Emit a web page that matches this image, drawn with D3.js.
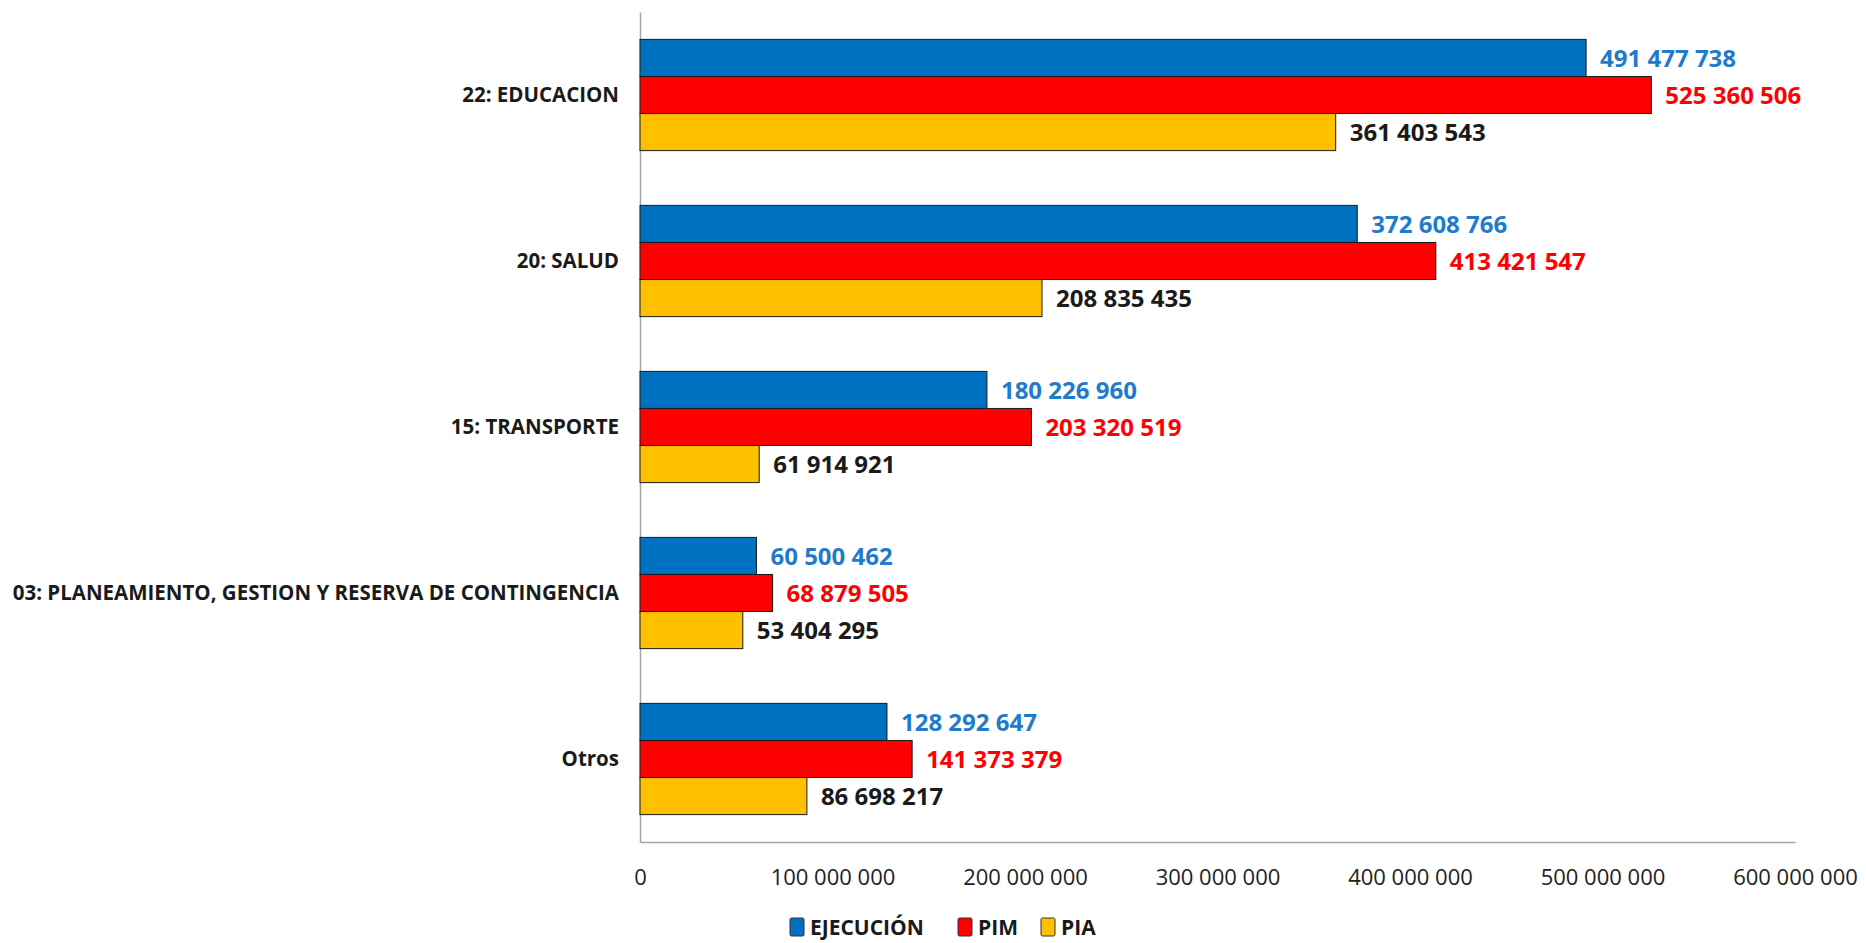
<!DOCTYPE html>
<html>
<head>
<meta charset="utf-8">
<script src="https://cdn.jsdelivr.net/npm/d3@7"></script>
<style>
  body { margin: 0; background: #fff; }
  svg { display: block; font-family: "Open Sans", sans-serif; }
</style>
</head>
<body>
<div id="chart"></div>
<script>
// categories (top to bottom)
const categories = [
  "22: EDUCACION",
  "20: SALUD",
  "15: TRANSPORTE",
  "03: PLANEAMIENTO, GESTION Y RESERVA DE CONTINGENCIA",
  "Otros"
];

const seriesNames = ["EJECUCIÓN", "PIM", "PIA"];

// series values
const ejecucion = [491477738, 372608766, 180226960, 60500462, 128292647];
const pim = [525360506, 413421547, 203320519, 68879505, 141373379];
const pia = [361403543, 208835435, 61914921, 53404295, 86698217];

const xTicks = [0, 100000000, 200000000, 300000000, 400000000, 500000000, 600000000];

const barColors = ["#0070C0", "#FF0000", "#FFC000"];
const labelColors = ["#1F7BCB", "#FF0000", "#1a1a1a"];

const width = 1866, height = 943;
const margin = {top: 12, right: 71, bottom: 101, left: 640};

const values = [ejecucion, pim, pia];
const rows = categories.map((c, i) => ({
  cat: c,
  vals: seriesNames.map((s, j) => ({ series: s, idx: j, value: values[j][i] }))
}));

const svg = d3.select("#chart").append("svg")
  .attr("width", width)
  .attr("height", height);

const x = d3.scaleLinear()
  .domain([0, 600000000])
  .range([margin.left, width - margin.right]);

const y = d3.scaleBand()
  .domain(categories)
  .range([margin.top, height - margin.bottom])
  .paddingInner(0.33)
  .paddingOuter(0.165);

const ySub = d3.scaleBand()
  .domain(seriesNames)
  .range([0, y.bandwidth()]);

// numbers grouped with spaces
const fmt = d3.formatLocale({ decimal: ",", thousands: " ", grouping: [3], currency: ["", ""] }).format(",d");

// x axis (labels only, with grey baseline)
const xAxis = svg.append("g")
  .attr("transform", `translate(0,${height - margin.bottom})`)
  .call(d3.axisBottom(x).tickValues(xTicks).tickFormat(fmt).tickSize(0).tickPadding(27))
  .call(g => g.select(".domain").attr("stroke", "#a6a6a6").attr("stroke-width", 1.5));
xAxis.selectAll("text")
  .attr("font-size", 22)
  .attr("font-family", "'Open Sans', sans-serif")
  .attr("fill", "#222");

// y axis
const yAxis = svg.append("g")
  .attr("transform", `translate(${margin.left},0)`)
  .call(d3.axisLeft(y).tickSize(0).tickPadding(21))
  .call(g => g.select(".domain").attr("stroke", "#a6a6a6").attr("stroke-width", 1.5));
yAxis.selectAll("text")
  .attr("font-size", 20.5)
  .attr("font-weight", "bold")
  .attr("font-family", "'Open Sans', sans-serif")
  .attr("fill", "#1a1a1a");

// bars
const groups = svg.append("g")
  .selectAll("g")
  .data(rows)
  .join("g")
  .attr("transform", d => `translate(0,${y(d.cat)})`);

groups.selectAll("rect")
  .data(d => d.vals)
  .join("rect")
  .attr("x", x(0))
  .attr("y", d => ySub(d.series))
  .attr("width", d => x(d.value) - x(0))
  .attr("height", ySub.bandwidth())
  .attr("fill", d => barColors[d.idx])
  .attr("stroke", "#1a1a1a")
  .attr("stroke-width", 1);

groups.selectAll("text")
  .data(d => d.vals)
  .join("text")
  .attr("x", d => x(d.value) + 14)
  .attr("y", d => ySub(d.series) + ySub.bandwidth() / 2)
  .attr("dy", "0.36em")
  .attr("font-size", 24)
  .attr("font-weight", "bold")
  .attr("fill", d => labelColors[d.idx])
  .text(d => fmt(d.value));

// legend
const legendX = [790, 958, 1041];
const legend = svg.append("g")
  .selectAll("g")
  .data(seriesNames)
  .join("g")
  .attr("transform", (d, i) => `translate(${legendX[i]},927)`);

legend.append("rect")
  .attr("x", 0)
  .attr("y", -9)
  .attr("width", 14)
  .attr("height", 18)
  .attr("rx", 1.5)
  .attr("fill", (d, i) => barColors[i])
  .attr("stroke", "#333")
  .attr("stroke-width", 1);

legend.append("text")
  .attr("x", 20)
  .attr("dy", "0.36em")
  .attr("font-size", 21)
  .attr("font-weight", "bold")
  .attr("fill", "#1a1a1a")
  .text(d => d);
</script>
</body>
</html>
